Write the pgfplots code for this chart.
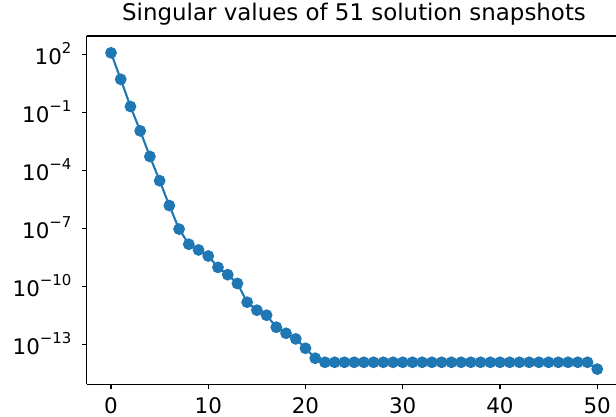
\documentclass[border=0pt]{standalone}
\usepackage{pgfplots}
\pgfplotsset{compat=1.18}
\usepackage{fontspec}
\setmainfont{DejaVu Sans}
\usetikzlibrary{calc}
\definecolor{mplblue}{HTML}{1F77B4}
\newcommand\sps[1]{\raisebox{10.6bp}{\fontsize{15}{18}\selectfont #1}}

\pgfplotstableread{
x y
0 1.2e2
1 5.1
2 2.0e-1
3 1.1e-2
4 5.2e-4
5 2.9e-5
6 1.5e-6
7 9.1e-8
8 1.5e-8
9 7.6e-9
10 3.7e-9
11 9.5e-10
12 4.0e-10
13 1.4e-10
14 1.5e-11
15 5.8e-12
16 3.2e-12
17 7.6e-13
18 3.7e-13
19 1.9e-13
20 6.2e-14
21 1.9e-14
22 1.17e-14
23 1.17e-14
24 1.17e-14
25 1.17e-14
26 1.17e-14
27 1.17e-14
28 1.17e-14
29 1.17e-14
30 1.17e-14
31 1.17e-14
32 1.17e-14
33 1.17e-14
34 1.17e-14
35 1.17e-14
36 1.17e-14
37 1.17e-14
38 1.17e-14
39 1.17e-14
40 1.17e-14
41 1.17e-14
42 1.17e-14
43 1.17e-14
44 1.17e-14
45 1.17e-14
46 1.17e-14
47 1.17e-14
48 1.17e-14
49 1.17e-14
50 5.2e-15
}\svals

\begin{document}
\begin{tikzpicture}
\begin{axis}[
  name=ax,
  scale only axis,
  width=529.3bp, height=348.3bp,
  xmin=-2.5, xmax=51.93,
  ymode=log, log basis y=10,
  ymin=8.5e-16, ymax=8.9e2,
  axis x line*=box, axis y line*=left,
  axis line style={-, line width=1.1bp, black},
  tick pos=left,
  tick align=outside,
  major tick length=5bp,
  every tick/.style={black, line width=1.1bp},
  yminorticks=false,
  xtick={0,10,20,30,40,50},
  ytick={1e2,1e-1,1e-4,1e-7,1e-10,1e-13},
  yticklabels={10\sps{2},10\sps{−1},10\sps{−4},10\sps{−7},10\sps{−10},10\sps{−13}},
  ticklabel style={font=\fontsize{21.5}{25}\selectfont},
  xticklabel style={anchor=north, inner sep=0pt, yshift=-8.4bp},
  yticklabel style={anchor=base east, inner sep=0pt, xshift=-10bp, yshift=-9.8bp},
  /pgf/number format/assume math mode=true,
  title={Singular values of 51 solution snapshots},
  title style={font=\fontsize{23}{27}\selectfont, at={(axis description cs:0.505,1)}, anchor=base, yshift=9.3bp, inner sep=0pt},
]
\addplot[mplblue, line width=2.1bp, mark=*, mark size=4.8bp, mark options={draw=mplblue, fill=mplblue}] table[x=x, y=y] {\svals};
\end{axis}
\pgfresetboundingbox
\useasboundingbox ($(ax.south west)+(-86.7bp,-32.7bp)$) rectangle ($(ax.north east)+(0bp,36bp)$);
\end{tikzpicture}
\end{document}
